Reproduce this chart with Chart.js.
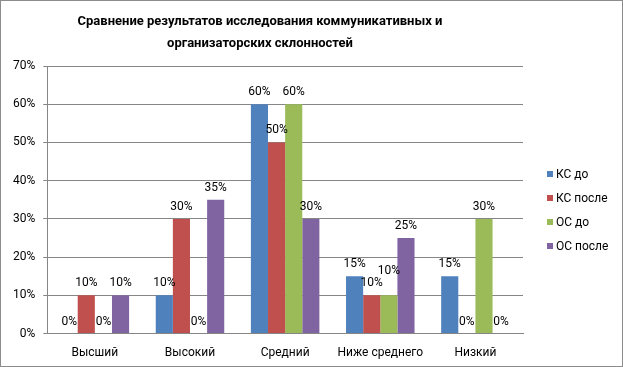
<!DOCTYPE html>
<html>
<head>
<meta charset="utf-8">
<script src="https://cdn.jsdelivr.net/npm/chart.js@4"></script>
<style>
  html, body { margin: 0; padding: 0; background: #fff; }
  #wrap { width: 621px; height: 365px; border: 1px solid #8c8c8c; position: relative; font-family: Roboto, sans-serif; }
  #legenda { position: absolute; left: 546px; top: 0; font-size: 12px; color: #000; }
  #legenda div { position: absolute; white-space: nowrap; height: 14px; line-height: 14px; }
  #legenda span { display: inline-block; width: 6px; height: 6px; margin-right: 3px; vertical-align: 1px; }
</style>
</head>
<body>
<div id="wrap"><canvas id="myChart" width="621" height="365"></canvas><div id="legenda"></div></div>
<script>
const categorias = ['Высший', 'Высокий', 'Средний', 'Ниже среднего', 'Низкий'];
const ksDo = [0, 10, 60, 15, 15];
const ksPosle = [10, 30, 50, 10, 0];
const osDo = [0, 0, 60, 10, 30];
const osPosle = [10, 35, 30, 25, 0];
const titulo = ['Сравнение результатов исследования коммуникативных и', 'организаторских склонностей'];

const fonte = "Roboto, 'Open Sans', sans-serif";

// rótulos acima das barras (sobe o rótulo se colidir com um anterior)
const rotulos = {
  id: 'rotulos',
  afterDatasetsDraw(chart) {
    const ctx = chart.ctx;
    ctx.save();
    ctx.font = '12px ' + fonte;
    ctx.fillStyle = '#000';
    ctx.textAlign = 'center';
    ctx.textBaseline = 'middle';
    const caixas = [];
    chart.data.datasets.forEach((ds, i) => {
      chart.getDatasetMeta(i).data.forEach((bar, j) => {
        const txt = ds.data[j] + '%';
        const w = ctx.measureText(txt).width;
        let y = bar.y - 12;
        for (let k = 0; k < caixas.length; k++) {
          const c = caixas[k];
          const sobrepoe = Math.abs(c.x - bar.x) < (c.w + w) / 2 && Math.abs(c.y - y) < 11;
          if (sobrepoe) { y = c.y - 12; k = -1; }
        }
        caixas.push({ x: bar.x, y: y, w: w });
        ctx.fillText(txt, bar.x, y);
      });
    });
    ctx.restore();
  }
};

// título deslocado para a esquerda, como no original
const tituloPlugin = {
  id: 'tituloPlugin',
  afterDraw(chart) {
    const ctx = chart.ctx;
    ctx.save();
    ctx.font = 'bold 13px ' + fonte;
    ctx.fillStyle = '#000';
    ctx.textAlign = 'center';
    ctx.textBaseline = 'middle';
    titulo.forEach((linha, i) => ctx.fillText(linha, 259, 21 + i * 22));
    ctx.restore();
  }
};

const ctx = document.getElementById('myChart').getContext('2d');
const grafico = new Chart(ctx, {
  type: 'bar',
  data: {
    labels: categorias,
    datasets: [
      { label: 'КС до', data: ksDo, backgroundColor: '#4F81BD' },
      { label: 'КС после', data: ksPosle, backgroundColor: '#C0504D' },
      { label: 'ОС до', data: osDo, backgroundColor: '#9BBB59' },
      { label: 'ОС после', data: osPosle, backgroundColor: '#8064A2' }
    ]
  },
  options: {
    responsive: false,
    animation: false,
    datasets: { bar: { barPercentage: 1, categoryPercentage: 0.72 } },
    layout: { padding: { left: 4, right: 99, top: 65, bottom: -6 } },
    plugins: {
      legend: { display: false },
      tooltip: { enabled: false }
    },
    scales: {
      x: {
        grid: { display: false, drawTicks: false },
        border: { color: '#868686' },
        ticks: { color: '#000', font: { family: fonte, size: 12 }, padding: 12, maxRotation: 0, autoSkip: false }
      },
      y: {
        min: 0,
        max: 70,
        grid: { color: '#868686', drawTicks: true, tickLength: 4 },
        border: { color: '#868686' },
        ticks: {
          stepSize: 10,
          color: '#000',
          font: { family: fonte, size: 12 },
          padding: 8,
          callback: v => v + '%'
        }
      }
    }
  },
  plugins: [rotulos, tituloPlugin]
});

// legenda em HTML
const legenda = document.getElementById('legenda');
grafico.data.datasets.forEach((ds, i) => {
  const item = document.createElement('div');
  item.style.top = (166 + i * 24) + 'px';
  item.innerHTML = '<span style="background:' + ds.backgroundColor + '"></span>' + ds.label;
  legenda.appendChild(item);
});
</script>
</body>
</html>
